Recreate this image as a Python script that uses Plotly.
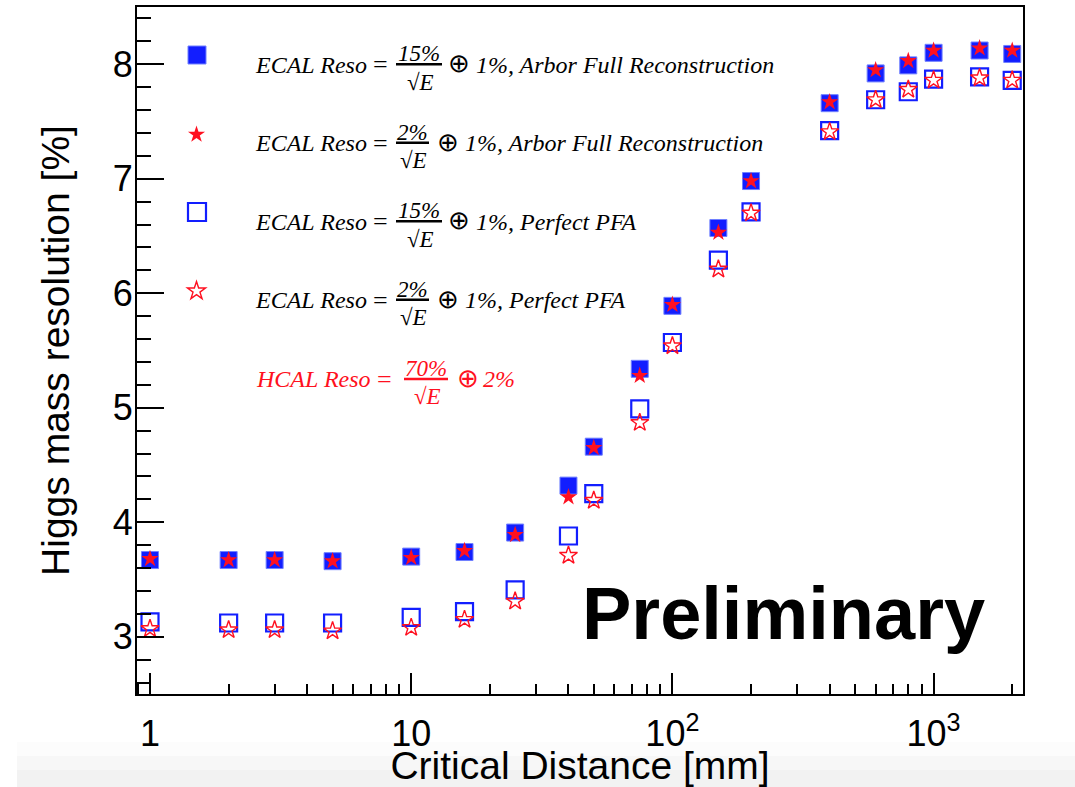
import plotly.graph_objects as go
import math

# ---------------- data ----------------
x_mm = [1, 2, 3, 5, 10, 16, 25, 40, 50, 75, 100, 150, 200, 400, 600, 800, 1000, 1500, 2000]
reso_ecal15_arbor = [3.67, 3.67, 3.67, 3.66, 3.70, 3.74, 3.91, 4.32, 4.66, 5.34, 5.89, 6.57, 6.98, 7.66, 7.92, 7.99, 8.10, 8.12, 8.09]
reso_ecal2_arbor = [3.68, 3.67, 3.67, 3.66, 3.69, 3.75, 3.89, 4.22, 4.65, 5.28, 5.90, 6.53, 6.98, 7.67, 7.95, 8.03, 8.12, 8.14, 8.12]
reso_ecal15_pfa = [3.13, 3.12, 3.12, 3.12, 3.17, 3.22, 3.41, 3.88, 4.25, 4.99, 5.57, 6.29, 6.71, 7.42, 7.69, 7.76, 7.87, 7.89, 7.86]
reso_ecal2_pfa = [3.07, 3.06, 3.06, 3.05, 3.08, 3.15, 3.31, 3.71, 4.19, 4.87, 5.54, 6.21, 6.70, 7.41, 7.69, 7.78, 7.86, 7.88, 7.86]

x_tick_vals = [1, 10, 100, 1000]
x_tick_text = ["1", "10", "10<sup>2</sup>", "10<sup>3</sup>"]
y_tick_vals = [3, 4, 5, 6, 7, 8]

legend_left = ["ECAL Reso", "ECAL Reso", "ECAL Reso", "ECAL Reso", "HCAL Reso"]
legend_num = ["15%", "2%", "15%", "2%", "70%"]
legend_den = ["\u221aE"] * 5
legend_right = ["1%, Arbor Full Reconstruction", "1%, Arbor Full Reconstruction",
                "1%, Perfect PFA", "1%, Perfect PFA", "2%"]

BLUE = "#121eff"
RED = "#ff1020"

# ---------------- geometry helpers ----------------
W, H = 1075, 787
ML, MR, MT, MB = 137, 52, 7, 93
PW, PH = W - ML - MR, H - MT - MB


def pxx(x):
    return (x - ML) / PW


def pxy(y):
    return (H - MB - y) / PH


fig = go.Figure()
fig.add_trace(go.Scatter(x=x_mm, y=reso_ecal15_arbor, mode="markers", name="ECAL 15%, Arbor",
                         marker=dict(symbol="square", size=17, color=BLUE, line=dict(width=1, color="#7080ff"))))
fig.add_trace(go.Scatter(x=x_mm, y=reso_ecal15_pfa, mode="markers", name="ECAL 15%, Perfect PFA",
                         marker=dict(symbol="square-open", size=17, color=BLUE, line=dict(width=2.2, color=BLUE))))
fig.add_trace(go.Scatter(x=x_mm, y=reso_ecal2_arbor, mode="markers", name="ECAL 2%, Arbor",
                         marker=dict(symbol="star", size=13, color=RED, line=dict(width=0))))
fig.add_trace(go.Scatter(x=x_mm, y=reso_ecal2_pfa, mode="markers", name="ECAL 2%, Perfect PFA",
                         marker=dict(symbol="star-open", size=13.5, color=RED, line=dict(width=1.4, color=RED))))

shapes = []
annotations = []

# bottom screenshot gradient
for y0, y1, c in [(742, 756, "#fcfcfc"), (756, 770, "#f7f7f7"), (770, 787, "#f2f2f2")]:
    shapes.append(dict(type="rect", xref="paper", yref="paper", x0=pxx(17), x1=pxx(1075), y0=pxy(y1), y1=pxy(y0),
                       fillcolor=c, line=dict(width=0), layer="below"))


def star_path(cx, cy, R):
    pts = []
    for i in range(10):
        ang = -math.pi / 2 + i * math.pi / 5
        r = R if i % 2 == 0 else R * 0.382
        pts.append((cx + r * math.cos(ang), cy + r * math.sin(ang)))
    return "M " + " L ".join(f"{pxx(x):.5f},{pxy(y):.5f}" for x, y in pts) + " Z"


# legend swatches
sq = 9
shapes.append(dict(type="rect", xref="paper", yref="paper", x0=pxx(197 - sq), x1=pxx(197 + sq),
                   y0=pxy(55 + sq), y1=pxy(55 - sq), fillcolor=BLUE, line=dict(width=1, color="#7080ff")))
shapes.append(dict(type="path", xref="paper", yref="paper", path=star_path(196.5, 134.5, 9.0),
                   fillcolor=RED, line=dict(width=0)))
shapes.append(dict(type="rect", xref="paper", yref="paper", x0=pxx(197 - sq), x1=pxx(197 + sq),
                   y0=pxy(212 + sq), y1=pxy(212 - sq), fillcolor="rgba(0,0,0,0)", line=dict(width=2.2, color=BLUE)))
shapes.append(dict(type="path", xref="paper", yref="paper", path=star_path(196.5, 291, 9.5),
                   fillcolor="rgba(0,0,0,0)", line=dict(width=1.4, color=RED)))

# legend text rows
row_base = [72.7, 151.2, 229.7, 308.2, 387.3]
row_left_x = [254, 254, 254, 254, 255]
row_eq_x = [372, 372, 372, 372, 376]
row_bar = [(396, 442), (396, 429), (396, 442), (396, 429), (404, 448)]
row_oplus_cx = [459, 448, 459, 448, 468]
row_text_x = [475, 464, 475, 464, 482]
row_color = ["black", "black", "black", "black", RED]
FS = 24
FSF = 23
for i in range(5):
    b = row_base[i]
    col = row_color[i]
    fnt = dict(family="Liberation Serif", size=FS, color=col)
    fntf = dict(family="Liberation Serif", size=FSF, color=col)
    ymid = pxy(b - 0.3375 * FS)
    annotations.append(dict(xref="paper", yref="paper", x=pxx(row_left_x[i]), y=ymid,
                            xanchor="left", yanchor="middle", text="<i>" + legend_left[i] + "</i>",
                            showarrow=False, font=fnt, borderpad=0))
    annotations.append(dict(xref="paper", yref="paper", x=pxx(row_eq_x[i]), y=ymid,
                            xanchor="left", yanchor="middle", text="=",
                            showarrow=False, font=dict(family="Liberation Serif", size=26, color=col), borderpad=0))
    bx0, bx1 = row_bar[i]
    cx = (bx0 + bx1) / 2
    annotations.append(dict(xref="paper", yref="paper", x=pxx(cx), y=pxy(b - 11 - 0.3375 * FSF),
                            xanchor="center", yanchor="middle", text="<i>" + legend_num[i] + "</i>",
                            showarrow=False, font=fntf, borderpad=0))
    annotations.append(dict(xref="paper", yref="paper", x=pxx(cx + 1), y=pxy(b + 17.3 - 0.3375 * FSF),
                            xanchor="center", yanchor="middle", text="<i>" + legend_den[i] + "</i>",
                            showarrow=False, font=fntf, borderpad=0))
    shapes.append(dict(type="line", xref="paper", yref="paper", x0=pxx(bx0), x1=pxx(bx1),
                       y0=pxy(b - 8.4), y1=pxy(b - 8.4), line=dict(color=col, width=2.5)))
    annotations.append(dict(xref="paper", yref="paper", x=pxx(row_oplus_cx[i]), y=pxy(b - 9.5),
                            xanchor="center", yanchor="middle", text="\u2295",
                            showarrow=False, font=dict(family="DejaVu Sans", size=26, color=col, weight=300),
                            borderpad=0))
    annotations.append(dict(xref="paper", yref="paper", x=pxx(row_text_x[i]), y=ymid,
                            xanchor="left", yanchor="middle", text="<i>" + legend_right[i] + "</i>",
                            showarrow=False, font=fnt, borderpad=0))

# Preliminary
annotations.append(dict(xref="paper", yref="paper", x=pxx(783.5), y=pxy(639 - 0.3465 * 74),
                        xanchor="center", yanchor="middle", text="<b>Preliminary</b>", showarrow=False,
                        font=dict(family="Liberation Sans", size=74, color="black"), borderpad=0))

fig.update_layout(
    width=W, height=H,
    margin=dict(l=ML, r=MR, t=MT, b=MB, autoexpand=False),
    paper_bgcolor="white", plot_bgcolor="white",
    showlegend=False,
    font=dict(family="Liberation Sans", color="black"),
    shapes=shapes, annotations=annotations,
    xaxis=dict(type="log", range=[-0.0498, 3.3423], tickmode="array", tickvals=x_tick_vals, ticktext=x_tick_text,
               ticks="inside", ticklen=21, tickwidth=2, tickcolor="black",
               minor=dict(ticks="inside", ticklen=10, tickwidth=2, tickcolor="black", dtick="D1", showgrid=False),
               showgrid=False, zeroline=False, showline=True, linewidth=2, linecolor="black", mirror=True,
               tickfont=dict(size=36, family="Liberation Sans"), ticklabelstandoff=7,
               title=dict(text="Critical Distance [mm]", font=dict(size=39, family="Liberation Sans"), standoff=9)),
    yaxis=dict(range=[2.5, 8.5], tickmode="array", tickvals=y_tick_vals,
               ticks="inside", ticklen=27, tickwidth=2, tickcolor="black",
               minor=dict(ticks="inside", ticklen=14, tickwidth=2, tickcolor="black", dtick=0.2, showgrid=False),
               showgrid=False, zeroline=False, showline=True, linewidth=2, linecolor="black", mirror=True,
               tickfont=dict(size=36, family="Liberation Sans"), ticklabelstandoff=-5,
               title=dict(text="Higgs mass resolution [%]", font=dict(size=39, family="Liberation Sans"), standoff=31)),
)

fig.write_html("out.html")
